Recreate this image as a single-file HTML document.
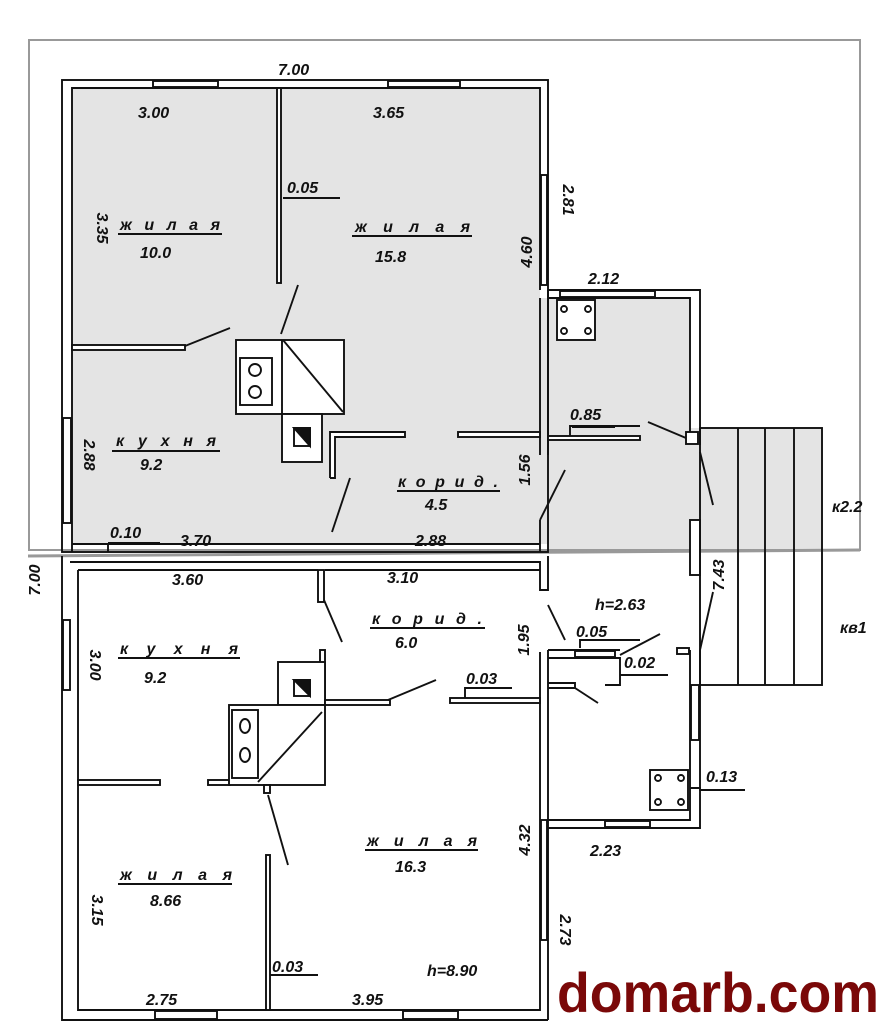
<!DOCTYPE html>
<html><head><meta charset="utf-8"><style>
html,body{margin:0;padding:0;background:#fff}
svg{display:block}
text{font-family:"Liberation Sans",sans-serif;font-style:italic;font-weight:bold;fill:#111}
.t{font-size:16px}
.l{stroke:#111;stroke-width:1.9;fill:none}
</style></head><body>
<svg width="895" height="1035" viewBox="0 0 895 1035" xmlns="http://www.w3.org/2000/svg">
<!-- gray areas -->
<polygon points="72,88 540,88 540,298 690,298 690,428 822,428 822,549 548,549 548,544 72,544" fill="#e4e4e4"/>
<rect x="29" y="40" width="831" height="510" fill="none" stroke="#999" stroke-width="2"/>
<line x1="28" y1="556" x2="860" y2="550" stroke="#999" stroke-width="3"/>

<g class="l">
<rect x="62" y="80" width="486" height="472"/>
<polyline points="72,552 72,88 540,88 540,290"/>
<line x1="540" y1="298" x2="540" y2="455"/>
<line x1="548" y1="290" x2="548" y2="455"/>
<line x1="540" y1="520" x2="540" y2="552"/>
<line x1="72" y1="544" x2="540" y2="544"/>
<rect x="153" y="81" width="65" height="6" fill="#fff"/>
<rect x="388" y="81" width="72" height="6" fill="#fff"/>
<rect x="63" y="418" width="8" height="105" fill="#fff"/>
<rect x="541" y="175" width="6" height="110" fill="#fff"/>
<rect x="277" y="88" width="4" height="195" fill="#fff"/>
<rect x="72" y="345" width="113" height="5" fill="#fff"/>
<line x1="185" y1="346" x2="230" y2="328"/>
<line x1="281" y1="334" x2="298" y2="285"/>
<rect x="236" y="340" width="108" height="74" fill="#fff"/>
<rect x="240" y="358" width="32" height="47"/>
<circle cx="255" cy="370" r="6"/><circle cx="255" cy="392" r="6"/>
<line x1="282" y1="340" x2="282" y2="414"/>
<line x1="283" y1="340" x2="343" y2="412"/>
<rect x="282" y="414" width="40" height="48" fill="#fff"/>
<rect x="294" y="428" width="16" height="18"/>
<polygon points="294,428 310,428 310,446" fill="#111"/>
<polyline points="330,478 330,432 405,432 405,437 335,437 335,478 330,478" fill="#fff"/>
<rect x="458" y="432" width="82" height="5" fill="#fff"/>
<rect x="548" y="436" width="92" height="4" fill="#fff"/>
<polyline points="570,436 570,426 640,426"/>
<line x1="332" y1="532" x2="350" y2="478"/>
<line x1="540" y1="520" x2="565" y2="470"/>
<polyline points="548,290 700,290 700,445"/>
<polyline points="548,298 690,298 690,440"/>
<rect x="560" y="291" width="95" height="6" fill="#fff"/>
<rect x="557" y="300" width="38" height="40" fill="#fff"/>
<circle cx="564" cy="309" r="3"/><circle cx="588" cy="309" r="3"/><circle cx="564" cy="331" r="3"/><circle cx="588" cy="331" r="3"/>
<rect x="686" y="432" width="12" height="12" fill="#fff"/>
<line x1="648" y1="422" x2="686" y2="438"/>
<line x1="700" y1="452" x2="713" y2="505"/>
<rect x="690" y="520" width="10" height="55" fill="#fff"/>
<line x1="713" y1="592" x2="700" y2="650"/>
<rect x="700" y="428" width="122" height="257"/>
<line x1="738" y1="428" x2="738" y2="685"/>
<line x1="765" y1="428" x2="765" y2="685"/>
<line x1="794" y1="428" x2="794" y2="685"/>

<polyline points="62,556 62,1020 548,1020"/>
<polyline points="78,570 78,1010 540,1010 540,652"/>
<line x1="548" y1="650" x2="548" y2="1020"/>
<polyline points="70,562 540,562 540,590 548,590 548,556"/>
<line x1="78" y1="570" x2="318" y2="570"/>
<line x1="325" y1="570" x2="540" y2="570"/>
<rect x="63" y="620" width="7" height="70" fill="#fff"/>
<rect x="155" y="1011" width="62" height="8" fill="#fff"/>
<rect x="403" y="1011" width="55" height="8" fill="#fff"/>
<rect x="541" y="820" width="6" height="120" fill="#fff"/>
<rect x="318" y="570" width="6" height="32" fill="#fff"/>
<line x1="324" y1="600" x2="342" y2="642"/>
<line x1="548" y1="605" x2="565" y2="640"/>
<rect x="78" y="780" width="82" height="5" fill="#fff"/>
<rect x="208" y="780" width="22" height="5" fill="#fff"/>
<rect x="320" y="650" width="5" height="55" fill="#fff"/>
<rect x="278" y="662" width="47" height="43" fill="#fff"/>
<rect x="294" y="680" width="16" height="16"/>
<polygon points="294,680 310,680 310,696" fill="#111"/>
<rect x="229" y="705" width="96" height="80" fill="#fff"/>
<rect x="232" y="710" width="26" height="68"/>
<ellipse cx="245" cy="726" rx="5" ry="7"/><ellipse cx="245" cy="755" rx="5" ry="7"/>
<line x1="258" y1="782" x2="322" y2="712"/>
<rect x="325" y="700" width="65" height="5" fill="#fff"/>
<line x1="388" y1="700" x2="436" y2="680"/>
<rect x="450" y="698" width="90" height="5" fill="#fff"/>
<polyline points="465,698 465,688 512,688"/>
<rect x="264" y="785" width="6" height="8" fill="#fff"/>
<line x1="268" y1="795" x2="288" y2="865"/>
<rect x="266" y="855" width="4" height="155" fill="#fff"/>
<polyline points="548,650 620,650"/>
<polyline points="548,658 620,658 620,685 605,685"/>
<rect x="575" y="651" width="40" height="6" fill="#fff"/>
<polyline points="580,648 580,640 640,640"/>
<line x1="620" y1="655" x2="660" y2="634"/>
<line x1="620" y1="675" x2="668" y2="675"/>
<polyline points="548,683 575,683 575,688 548,688"/>
<line x1="575" y1="688" x2="598" y2="703"/>
<rect x="677" y="648" width="12" height="6" fill="#fff"/>
<polyline points="690,650 690,820 548,820"/>
<polyline points="700,650 700,828 548,828"/>
<rect x="691" y="685" width="8" height="55" fill="#fff"/>
<rect x="605" y="821" width="45" height="6" fill="#fff"/>
<rect x="650" y="770" width="38" height="40" fill="#fff"/>
<circle cx="658" cy="778" r="3"/><circle cx="681" cy="778" r="3"/><circle cx="658" cy="802" r="3"/><circle cx="681" cy="802" r="3"/>
<polyline points="690,788 700,788 700,790 745,790"/>
<line x1="118" y1="234" x2="222" y2="234"/>
<line x1="352" y1="236" x2="472" y2="236"/>
<line x1="283" y1="198" x2="340" y2="198"/>
<line x1="112" y1="451" x2="220" y2="451"/>
<line x1="397" y1="491" x2="500" y2="491"/>
<line x1="108" y1="543" x2="160" y2="543"/><line x1="108" y1="543" x2="108" y2="552"/>
<line x1="370" y1="628" x2="485" y2="628"/>
<line x1="118" y1="658" x2="240" y2="658"/>
<line x1="365" y1="850" x2="478" y2="850"/>
<line x1="118" y1="884" x2="232" y2="884"/>
<line x1="270" y1="975" x2="318" y2="975"/>
<line x1="572" y1="427" x2="615" y2="427"/>
</g>

<g class="t">
<text x="278" y="75">7.00</text>
<text x="138" y="118">3.00</text>
<text x="373" y="118">3.65</text>
<text x="287" y="193">0.05</text>
<text x="120" y="230" textLength="100">жилая</text>
<text x="140" y="258">10.0</text>
<text x="355" y="232" textLength="115">жилая</text>
<text x="375" y="262">15.8</text>
<text x="588" y="284">2.12</text>
<text x="570" y="420">0.85</text>
<text x="116" y="446" textLength="100">кухня</text>
<text x="140" y="470">9.2</text>
<text x="398" y="487" textLength="100">корид.</text>
<text x="425" y="510">4.5</text>
<text x="110" y="538">0.10</text>
<text x="180" y="546">3.70</text>
<text x="415" y="546">2.88</text>
<text x="832" y="512">к2.2</text>
<text x="172" y="585">3.60</text>
<text x="387" y="583">3.10</text>
<text x="372" y="624" textLength="110">корид.</text>
<text x="395" y="648">6.0</text>
<text x="595" y="610">h=2.63</text>
<text x="576" y="637">0.05</text>
<text x="624" y="668">0.02</text>
<text x="840" y="633">кв1</text>
<text x="120" y="654" textLength="118">кухня</text>
<text x="144" y="683">9.2</text>
<text x="466" y="684">0.03</text>
<text x="706" y="782">0.13</text>
<text x="590" y="856">2.23</text>
<text x="367" y="846" textLength="110">жилая</text>
<text x="395" y="872">16.3</text>
<text x="120" y="880" textLength="112">жилая</text>
<text x="150" y="906">8.66</text>
<text x="272" y="972">0.03</text>
<text x="427" y="976">h=8.90</text>
<text x="146" y="1005">2.75</text>
<text x="352" y="1005">3.95</text>
<text transform="translate(97,228) rotate(90)" text-anchor="middle">3.35</text>
<text transform="translate(563,200) rotate(90)" text-anchor="middle">2.81</text>
<text transform="translate(532,252) rotate(-90)" text-anchor="middle">4.60</text>
<text transform="translate(84,455) rotate(90)" text-anchor="middle">2.88</text>
<text transform="translate(530,470) rotate(-90)" text-anchor="middle">1.56</text>
<text transform="translate(40,580) rotate(-90)" text-anchor="middle">7.00</text>
<text transform="translate(724,575) rotate(-90)" text-anchor="middle">7.43</text>
<text transform="translate(529,640) rotate(-90)" text-anchor="middle">1.95</text>
<text transform="translate(90,665) rotate(90)" text-anchor="middle">3.00</text>
<text transform="translate(530,840) rotate(-90)" text-anchor="middle">4.32</text>
<text transform="translate(92,910) rotate(90)" text-anchor="middle">3.15</text>
<text transform="translate(560,930) rotate(90)" text-anchor="middle">2.73</text>
</g>

<rect x="550" y="955" width="345" height="80" fill="#fff"/>
<text x="557" y="1012" textLength="322" lengthAdjust="spacingAndGlyphs" style="font-style:normal;font-weight:bold;font-size:56px;fill:#7a0808">domarb.com</text>
</svg>
</body></html>
